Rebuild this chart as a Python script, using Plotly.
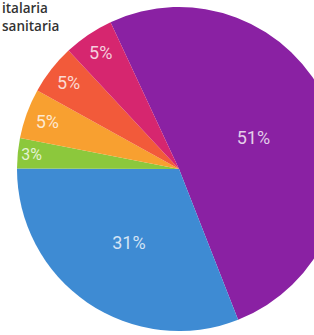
import plotly.graph_objects as go

# Data
categories = ["Hospitalaria", "Sociosanitaria", "Categoría 3", "Categoría 4", "Categoría 5", "Categoría 6"]
values = [51, 31, 3, 5, 5, 5]
colors = ["#8A21A3", "#3E8BD3", "#8CC83C", "#F8A030", "#F25A3A", "#D6266F"]
legend_fragments = ["italaria", "sanitaria"]

W, H = 350, 335
fig = go.Figure(
    go.Pie(
        labels=categories,
        values=values,
        sort=False,
        direction="clockwise",
        rotation=-25,
        marker=dict(colors=colors, line=dict(width=0)),
        textinfo="percent",
        textposition="inside",
        insidetextorientation="horizontal",
        textfont=dict(family="Roboto", size=18, color="rgba(255,255,255,0.78)"),
        domain=dict(x=[(179 - 162) / W, (179 + 162) / W], y=[(335 - 169 - 162) / H, (335 - 169 + 162) / H]),
        showlegend=False,
    )
)

for i, t in enumerate(legend_fragments):
    fig.add_annotation(
        text=t, xref="paper", yref="paper", x=0, y=1 - (8 + 18 * i) / H,
        xanchor="left", yanchor="middle", showarrow=False,
        font=dict(family="Open Sans", size=13.5, color="#333333", weight=600),
    )

fig.update_layout(
    width=W, height=H,
    margin=dict(l=0, r=0, t=0, b=0),
    paper_bgcolor="white", plot_bgcolor="white",
)

fig.write_html(
    "out.html",
    config={"displayModeBar": False},
    post_script="document.body.style.margin='0';document.body.style.overflow='hidden';document.documentElement.style.overflow='hidden';",
)
